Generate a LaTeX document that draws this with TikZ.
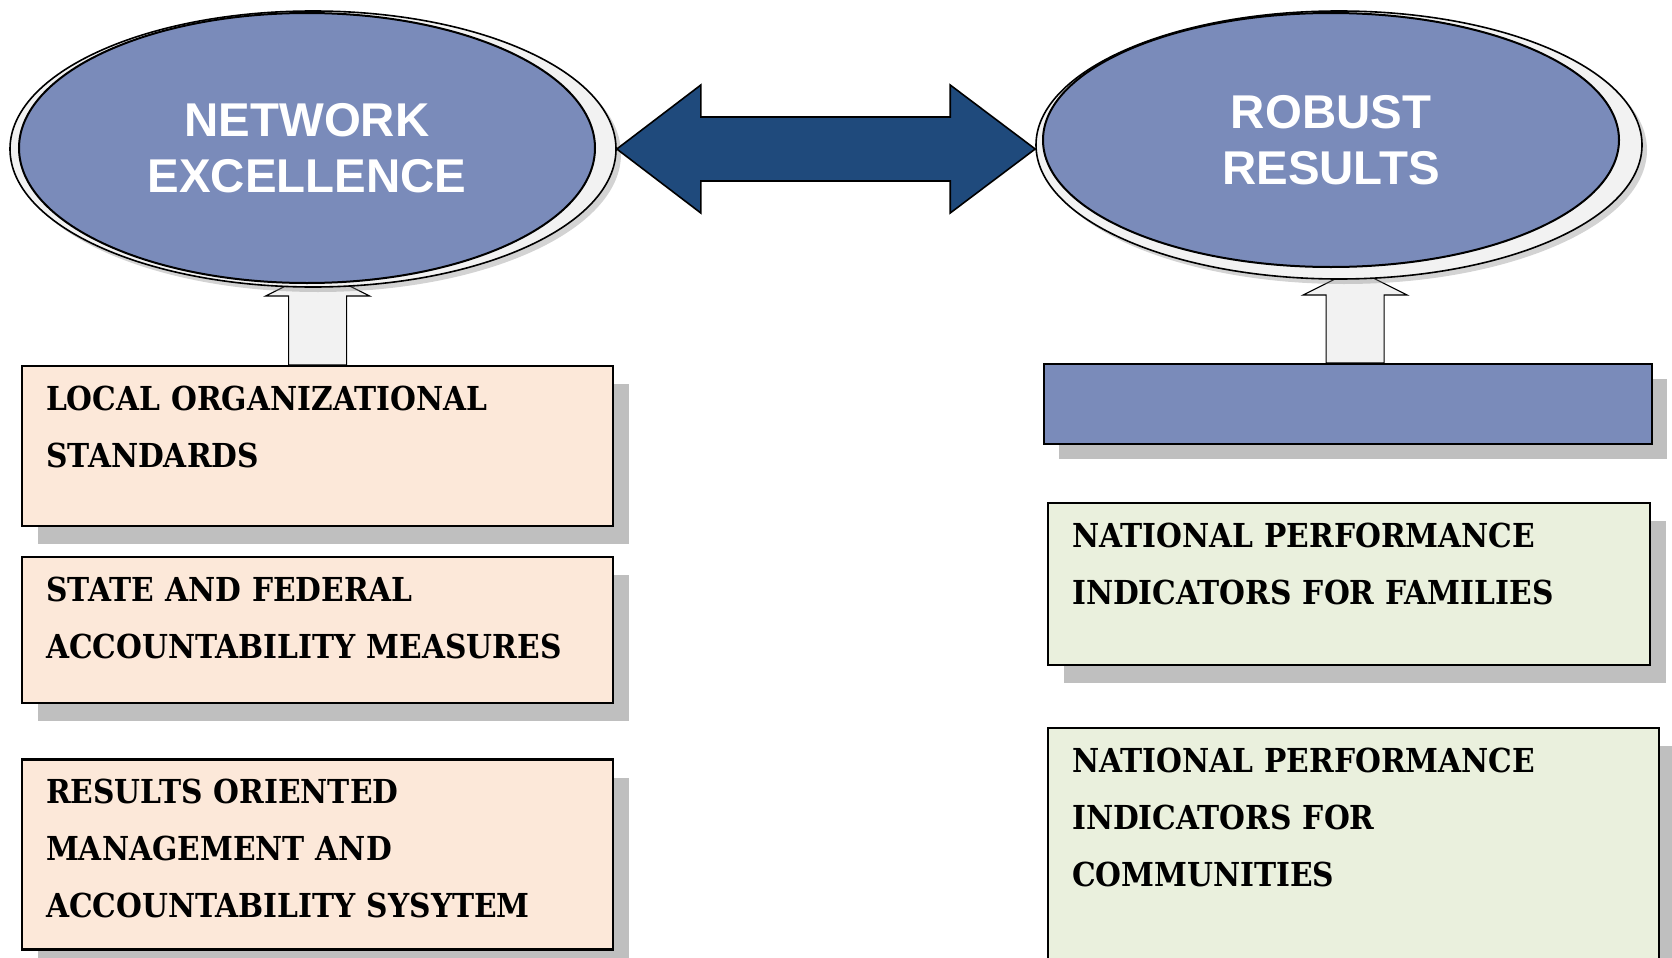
\documentclass[tikz,border=0pt]{standalone}
\usepackage{fontspec}
\usepackage{tikz}
\usetikzlibrary{calc,positioning,shapes,shadows,backgrounds}
\newfontfamily\ovalfont{Liberation Sans}
\newfontfamily\schoolfont{DejaVu Serif}[FakeStretch=0.9]
\newcommand\cardfont{\schoolfont\bfseries\fontsize{16.5}{28.5}\selectfont}
\definecolor{ovalblue}{HTML}{7A8BBA}
\definecolor{arrowblue}{HTML}{1F4A7C}
\definecolor{peach}{HTML}{FCE8D9}
\definecolor{sage}{HTML}{EAF0DD}
\definecolor{shadowgray}{HTML}{BFBFBF}
\definecolor{shaftgray}{HTML}{F2F2F2}
\tikzstyle{oval}     = [ellipse, draw=black, line width=1pt, fill=ovalblue, text=white,
                        align=center, inner sep=0pt, font=\ovalfont\bfseries\fontsize{23.7}{28}\selectfont]
\tikzstyle{ovalback} = [ellipse, draw=black, line width=0.8pt, fill=shaftgray,
                        drop shadow={shadow xshift=2.5pt, shadow yshift=-2.5pt, opacity=0.35}]
\tikzstyle{card}     = [rectangle, draw=black, line width=1.1pt, anchor=north west, align=left,
                        inner xsep=12pt, inner ysep=10pt, text height=12pt, font=\cardfont,
                        general shadow={fill=shadowgray, shadow xshift=8pt, shadow yshift=-9pt}]
\tikzstyle{uparrow}  = [draw=black, line width=0.6pt, fill=shaftgray]

\begin{document}
\begin{tikzpicture}[x=0.5pt, y=-0.5pt,
            bar/.style={rectangle, draw=black, line width=1.1pt, fill=ovalblue, anchor=north west,
                        minimum width=304pt, minimum height=40pt, inner sep=0pt,
                        general shadow={fill=shadowgray, shadow xshift=7.5pt, shadow yshift=-7.5pt}},
            bigarrow/.style={draw=black, line width=0.8pt, fill=arrowblue}]
        \useasboundingbox (0,0) rectangle (1672,958);

        % ellipses
        \node[ovalback, minimum width=303pt, minimum height=138pt] (netback) at (313,149) {};
        \node[oval, minimum width=288pt, minimum height=135pt] (network) at (307,148) {NETWORK\\EXCELLENCE};
        \node[ovalback, minimum width=303pt, minimum height=134pt] (robback) at (1339,145) {};
        \node[oval, minimum width=288pt, minimum height=127pt] (robust) at (1331,140) {ROBUST\\RESULTS};

        % left column
        \node[card, fill=peach, text width=271.5pt, text depth=48pt] (local) at (21,365)
            {LOCAL ORGANIZATIONAL\\STANDARDS};
        \node[card, fill=peach, text width=271.5pt, text depth=41pt,
              below=14.5pt of local.south west, anchor=north west] (state)
            {STATE AND FEDERAL\\ACCOUNTABILITY MEASURES};
        \node[card, fill=peach, text width=271.5pt, text depth=63pt,
              below=27pt of state.south west, anchor=north west] (roma)
            {RESULTS ORIENTED\\MANAGEMENT AND\\ACCOUNTABILITY SYSYTEM};

        % right column
        \node[bar] (blank) at (1043,363) {};
        \node[card, fill=sage, text width=277pt, text depth=49pt] (families) at (1047,502)
            {NATIONAL PERFORMANCE\\INDICATORS FOR FAMILIES};
        \node[card, fill=sage, text width=281.5pt, text depth=87pt] (communities) at (1047,727)
            {NATIONAL PERFORMANCE\\INDICATORS FOR\\COMMUNITIES};

        % double arrow between the ellipses
        \coordinate (L) at (netback.east);
        \coordinate (R) at (robback.west |- L);
        \draw[bigarrow] (L) -- ++(84,-64) -- ++(0,32) -- ($(R)+(-85,-32)$) -- ++(0,-32) -- (R)
            -- ++(-85,64) -- ++(0,-32) -- ($(L)+(84,32)$) -- ++(0,32) -- cycle;

        % up arrows
        \begin{scope}[on background layer]
            \draw[uparrow] ($(local.north)+(-29,0)$) -- ++(0,-69) -- ++(-23,0) -- ++(52,-26)
                -- ++(52,26) -- ++(-23,0) -- ++(0,69) -- cycle;
            \draw[uparrow] ($(blank.north)+(7-29,0)$) -- ++(0,-68) -- ++(-23,0) -- ++(52,-26)
                -- ++(52,26) -- ++(-23,0) -- ++(0,68) -- cycle;
        \end{scope}
    \end{tikzpicture}
\end{document}
